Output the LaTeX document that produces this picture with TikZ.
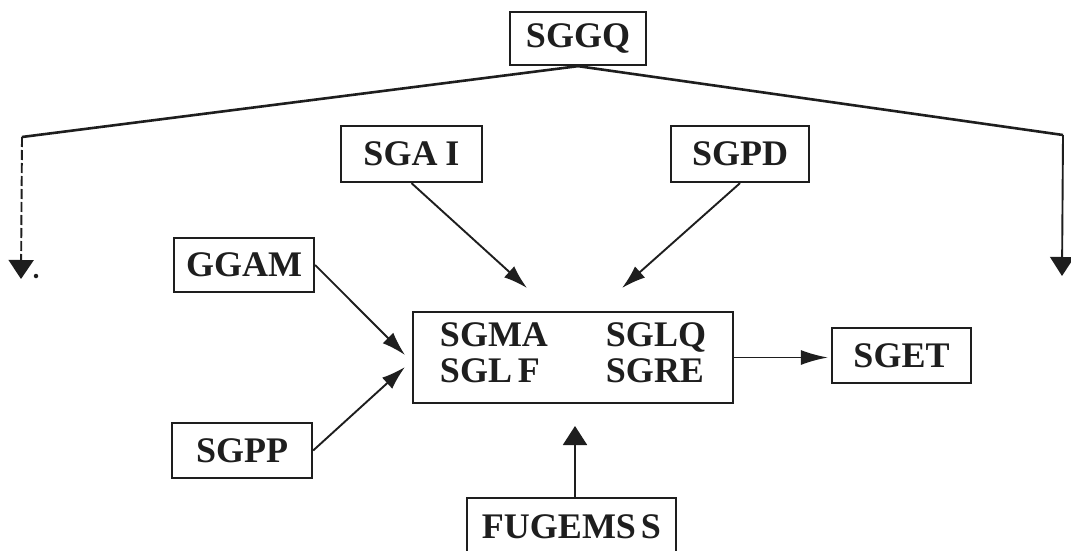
\documentclass[tikz,border=0pt]{standalone}
\usepackage{fontspec}
\setmainfont{Liberation Serif}
\usetikzlibrary{arrows.meta}
\definecolor{ink}{RGB}{30,30,30}
\begin{document}
\begin{tikzpicture}[x=1pt,y=-1pt,
  box/.style={draw=ink, line width=2.3pt, inner sep=0pt, text=ink,
    font=\fontsize{36}{36}\selectfont\bfseries},
  conn/.style={draw=ink, line width=1.9pt},
  thick conn/.style={draw=ink, line width=2.6pt},
  diag/.style={conn, -{Latex[length=24pt,width=15pt]}},
  vert/.style={conn, -{Triangle[length=19pt,width=24pt]}},
]
\useasboundingbox[fill=white] (0,0) rectangle (1071,551);

% boxes
\node[box, minimum width=136pt, minimum height=53pt] (sggq) at (578,38.5) {SGGQ};
\node[box, minimum width=141pt, minimum height=56pt] (sgai) at (411.5,154) {SGA\hspace{8pt}I};
\node[box, minimum width=138pt, minimum height=56pt] (sgpd) at (740,154) {SGPD};
\node[box, minimum width=140pt, minimum height=54pt] (ggam) at (244,265) {GGAM};
\node[box, minimum width=140pt, minimum height=55pt] (sgpp) at (242,450.5) {SGPP};
\node[box, minimum width=320pt, minimum height=91pt] (central) at (573,357.5)
  {\begin{tabular}{@{}l@{\hspace{58pt}}l@{}}SGMA & SGLQ\\ SGL\hspace{6pt}F & SGRE\end{tabular}};
\node[box, minimum width=139pt, minimum height=55pt] (sget) at (901.5,355.5) {SGET};
\node[box, minimum width=209pt, minimum height=58pt] (fugemss) at (571.5,527) {FUGEMS\hspace{5pt}S};

% free ends
\coordinate (cl) at (22,137);
\coordinate (tl) at (21,279);
\coordinate (cr) at (1063,135);
\coordinate (tr) at (1062,276);
\coordinate (ai) at (527,288);
\coordinate (pd) at (622,288);
\coordinate (gg) at (405,355);
\coordinate (pp) at (405,367);
\coordinate (fu) at (575,426);
\node[circle, fill=ink, inner sep=0pt, minimum size=4.5pt] (dot) at (36,276) {};

% connectors from SGGQ
\draw[thick conn] (sggq.south) -- (cl);
\draw[conn, dash pattern=on 10pt off 3pt, -{Triangle[length=19pt,width=25pt]}] (cl) -- (tl);
\draw[thick conn] (sggq.south) -- (cr);
\draw[vert] (cr) -- (tr);

% arrows into the central box
\draw[diag] (sgai.south) -- (ai);
\draw[diag] (sgpd.south) -- (pd);
\draw[diag] (ggam.east) -- (gg);
\draw[diag] (sgpp.east) -- (pp);
\draw[vert] (fu |- fugemss.north) -- (fu);
\draw[diag, -{Latex[length=27pt,width=15pt]}, shorten >=3pt] (central.east) -- (central.east -| sget.west);
\end{tikzpicture}
\end{document}
